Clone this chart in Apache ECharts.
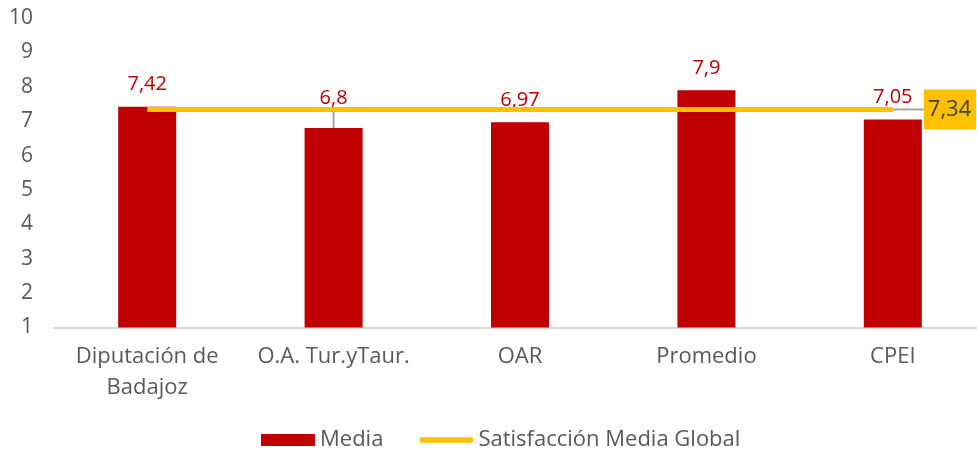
<!DOCTYPE html>
<html>
<head>
<meta charset="utf-8">
<script src="https://cdn.jsdelivr.net/npm/echarts@6/dist/echarts.min.js"></script>
<style>
  html, body { margin: 0; padding: 0; background: #fff; overflow: hidden; }
  /* plot area runs a few px past the right edge in the original */
  #chart { width: 986px; height: 452px; }
</style>
</head>
<body>
<div id="chart"></div>
<script>
const categories = ["Diputación de\nBadajoz", "O.A. Tur.yTaur.", "OAR", "Promedio", "CPEI"];
const mediaValues = [7.42, 6.8, 6.97, 7.9, 7.05];
const globalValues = [7.34, 7.34, 7.34, 7.34, 7.34];
const yTicks = { min: 1, max: 10, interval: 1 };

const fmt = (v) => String(v).replace(".", ",");
const FONT = "'Open Sans', 'Noto Sans', sans-serif";
const GREY_LINE = { color: "#A6A6A6", width: 2 };

const chart = echarts.init(document.getElementById("chart"));

// only the 6,8 label sits away from its bar, with a leader
const barData = mediaValues.map((v, i) =>
  i === 1 ? { value: v, labelLine: { show: true, lineStyle: GREY_LINE } } : v
);

const lastIdx = globalValues.length - 1;
const lineData = globalValues.map((v, i) => {
  if (i !== lastIdx) return v;
  return {
    value: v,
    label: {
      show: true,
      position: "right",
      distance: 0,
      formatter: (p) => fmt(p.value),
      backgroundColor: "#FFC000",
      color: "#404040",
      fontSize: 22,
      fontFamily: FONT,
      padding: [9, 5, 9, 4],
    },
    labelLine: { show: true, lineStyle: GREY_LINE },
  };
});

const options = {
  animation: false,
  textStyle: { fontFamily: FONT },
  grid: {
    left: 54,
    top: 18,
    right: 0,
    bottom: 124.5,
  },
  legend: {
    top: 424,
    left: 256,
    itemWidth: 54,
    itemHeight: 12,
    itemGap: 36,
    textStyle: { fontSize: 22, color: "#595959", fontFamily: FONT },
    data: [
      { name: "Media", icon: "rect" },
      {
        name: "Satisfacción Media Global",
        icon: "path://M5,0 L95,0 A5,5 0 0 1 95,10 L5,10 A5,5 0 0 1 5,0 Z",
        itemStyle: { color: "#FFC000" },
      },
    ],
  },
  xAxis: {
    type: "category",
    data: categories,
    axisLine: { lineStyle: { color: "#D9D9D9", width: 2 } },
    axisTick: { show: false },
    axisLabel: {
      fontSize: 22,
      color: "#595959",
      lineHeight: 31,
      margin: 14,
      interval: 0,
      fontFamily: FONT,
    },
  },
  yAxis: {
    type: "value",
    min: yTicks.min,
    max: yTicks.max,
    interval: yTicks.interval,
    axisLine: { show: false },
    axisTick: { show: false },
    splitLine: { show: false },
    axisLabel: {
      fontSize: 21,
      color: "#595959",
      margin: 21,
      fontFamily: FONT,
    },
  },
  series: [
    {
      name: "Media",
      type: "bar",
      data: barData,
      barWidth: 58,
      itemStyle: { color: "#C00000" },
      label: {
        show: true,
        position: "top",
        distance: 12,
        color: "#C00000",
        fontSize: 20,
        fontFamily: FONT,
        formatter: (p) => fmt(p.value),
      },
      labelLayout: (params) => (params.dataIndex === 1 ? { dy: -8 } : {}),
      labelLine: { show: false },
    },
    {
      name: "Satisfacción Media Global",
      type: "line",
      data: lineData,
      symbol: "circle",
      symbolSize: 0,
      z: 3,
      itemStyle: { color: "#FFC000" },
      lineStyle: { color: "#FFC000", width: 5 },
      labelLayout: (params) => (params.dataIndex === lastIdx ? { dx: 31 } : {}),
      labelLine: { show: false },
    },
  ],
};

chart.setOption(options, true);
</script>
</body>
</html>
